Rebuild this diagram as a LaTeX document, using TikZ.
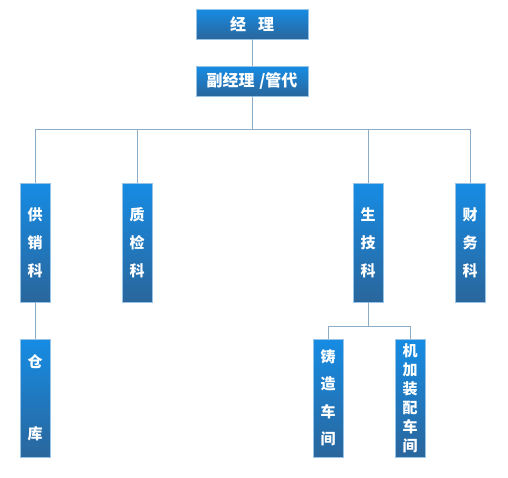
\documentclass[tikz,border=0pt]{standalone}
\usepackage{fontspec}
\newfontfamily\cjk{Noto Sans CJK SC}
\definecolor{boxtop}{RGB}{22,140,228}
\definecolor{boxbot}{RGB}{42,102,156}
\definecolor{boxedge}{RGB}{150,195,230}
\definecolor{linec}{RGB}{140,172,200}
\tikzset{
  orgbox/.style={draw=boxedge, line width=0.8pt, top color=boxtop, bottom color=boxbot,
     inner sep=0pt, text=white, font=\cjk\bfseries\fontsize{15}{28}\selectfont, align=center},
  hbox/.style={orgbox, minimum width=112pt, minimum height=30pt, font=\cjk\bfseries\fontsize{16}{18}\selectfont},
  vbox/.style={orgbox, minimum width=30pt, minimum height=119pt},
  conn/.style={draw=linec, line width=0.9pt}
}
\begin{document}
\begin{tikzpicture}[x=1pt,y=-1pt]
\useasboundingbox (0,0) rectangle (508,477);
\node[hbox] (jl) at (252,24) {经\hspace{0.75em}理};
\node[hbox] (fjl) at (252,81) {副经理\hspace{0.3em}/管代};
\node[vbox] (gx) at (35,242.5) {供\\销\\科};
\node[vbox] (zj) at (137,242.5) {质\\检\\科};
\node[vbox] (sj) at (368,242.5) {生\\技\\科};
\node[vbox] (cw) at (470,242.5) {财\\务\\科};
\node[vbox, minimum height=118pt, font=\cjk\bfseries\fontsize{15}{72}\selectfont] (ck) at (35,398) {仓\\库};
\node[vbox, minimum height=118pt, font=\cjk\bfseries\fontsize{15}{27.5}\selectfont] (zz) at (328,398) {铸\\造\\车\\间};
\node[vbox, minimum height=118pt, font=\cjk\bfseries\fontsize{15}{19}\selectfont] (jj) at (410,398) {机\\加\\装\\配\\车\\间};
\coordinate (hb) at (252,129);
\coordinate (sb) at (368,326);
\draw[conn] (jl.south) -- (fjl.north);
\draw[conn] (fjl.south) -- (hb);
\draw[conn] (gx.north) |- (hb);
\draw[conn] (cw.north) |- (hb);
\draw[conn] (zj.north) -- (zj.north |- hb);
\draw[conn] (sj.north) -- (sj.north |- hb);
\draw[conn] (gx.south) -- (ck.north);
\draw[conn] (sj.south) -- (sb);
\draw[conn] (zz.north) |- (sb);
\draw[conn] (jj.north) |- (sb);
\end{tikzpicture}
\end{document}
